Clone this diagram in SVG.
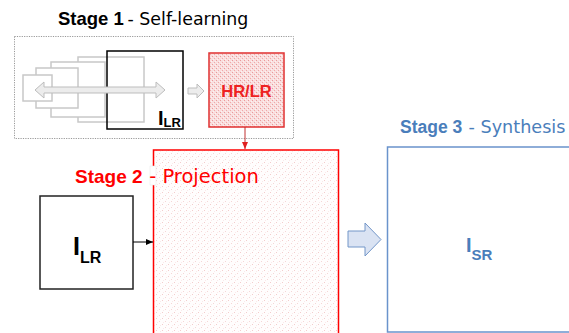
<svg xmlns="http://www.w3.org/2000/svg" width="569" height="333" viewBox="0 0 569 333">
<style>
text{font-family:"Liberation Sans",Arial,sans-serif}
.b{font-weight:bold}
.n{font-family:"DejaVu Sans",Verdana,sans-serif}
.ghost{fill:#fff;stroke:#c8c8c8;stroke-width:1.5}
</style>
<defs>
<pattern id="hrp" width="4" height="4" patternUnits="userSpaceOnUse">
<rect width="4" height="4" fill="#f9dede"/>
<rect x="0" y="0" width="1" height="1" fill="#ea9a9a"/>
<rect x="2" y="2" width="1" height="1" fill="#f0a8a8"/>
<rect x="3" y="1" width="1" height="1" fill="#fdf2f2"/>
<rect x="1" y="3" width="1" height="1" fill="#fdf2f2"/>
</pattern>
<pattern id="s2p" width="6" height="6" patternUnits="userSpaceOnUse">
<rect width="6" height="6" fill="#fffdfd"/>
<rect x="0" y="0" width="1" height="1" fill="#f3cccc"/>
<rect x="3" y="3" width="1" height="1" fill="#f5d6d6"/>
<rect x="4" y="1" width="1" height="1" fill="#faeaea"/>
<rect x="1" y="4" width="1" height="1" fill="#faeaea"/>
</pattern>
<marker id="ah" markerWidth="8" markerHeight="8" refX="7" refY="4" orient="auto" markerUnits="userSpaceOnUse">
<path d="M0,1 L7,4 L0,7 Z" fill="#000"/>
</marker>
<marker id="ahr" markerWidth="8" markerHeight="8" refX="7" refY="4" orient="auto" markerUnits="userSpaceOnUse">
<path d="M0,1 L7,4 L0,7 Z" fill="#e02020"/>
</marker>
</defs>

<g id="stage1">
<text x="58" y="25" font-size="18.5" fill="#000"><tspan class="b">Stage 1</tspan><tspan class="n" font-size="17.4" x="122"> - Self-learning</tspan></text>
<rect x="14.5" y="36.5" width="279" height="102" fill="none" stroke="#999" stroke-width="1" stroke-dasharray="1.2,1.2"/>
<rect class="ghost" x="78" y="57" width="66" height="65"/>
<rect class="ghost" x="51" y="62" width="54" height="55"/>
<rect class="ghost" x="36" y="68" width="42" height="40"/>
<rect class="ghost" x="23" y="75" width="29" height="26"/>
<rect x="107" y="51" width="76" height="78" fill="none" stroke="#000" stroke-width="1.5"/>
<path d="M35,90 L44,82 L44,87 L156,87 L156,82 L165,90 L156,98 L156,93 L44,93 L44,98 Z" fill="#ececec" stroke="#bdbdbd" stroke-width="1"/>
<text x="158" y="125" font-size="20" class="b">I<tspan font-size="13" dy="2">LR</tspan></text>
<path d="M188,88 L197,88 L197,84 L204,91 L197,98 L197,94 L188,94 Z" fill="#ececec" stroke="#bdbdbd" stroke-width="1"/>
</g>

<g id="hrlr">
<rect x="209" y="53" width="75" height="74" fill="url(#hrp)" stroke="#e03030" stroke-width="1.5"/>
<text x="246.5" y="97" font-size="16.5" class="b" fill="#ee2222" text-anchor="middle">HR/LR</text>
</g>

<g id="stage2">
<rect x="153.5" y="150" width="185" height="190" fill="url(#s2p)" stroke="#ff0000" stroke-width="1.5"/>
<rect x="150" y="166" width="6" height="19" fill="#fff" stroke="#e6e6e6" stroke-width="0.5"/>
<text x="75" y="183" font-size="19" fill="#ff0000"><tspan class="b">Stage 2</tspan><tspan class="n" font-size="19.5" x="143"> - Projection</tspan></text>
</g>

<g id="ilr">
<rect x="40" y="196" width="93" height="93" fill="#fff" stroke="#222" stroke-width="1.5"/>
<text x="73" y="255" font-size="25" class="b">I<tspan font-size="16" dy="8">LR</tspan></text>
</g>

<g id="stage3">
<text x="400" y="133" font-size="17.5" fill="#4a7ebb"><tspan class="b">Stage 3</tspan><tspan class="n" font-size="17.6" x="463"> - Synthesis</tspan></text>
<rect x="387.5" y="147" width="184" height="185" fill="#fff" stroke="#6a93cc" stroke-width="1.5"/>
<text x="466" y="252" font-size="20" class="b" fill="#4a7ebb">I<tspan font-size="15" dy="8">SR</tspan></text>
</g>

<g id="connectors">
<line x1="245" y1="127" x2="245" y2="149" stroke="#c03030" stroke-width="1" marker-end="url(#ahr)"/>
<line x1="133" y1="242" x2="153" y2="242" stroke="#000" stroke-width="1" marker-end="url(#ah)"/>
<path d="M348,231 L365,231 L365,223 L381,239.5 L365,256 L365,247 L348,247 Z" fill="#dae3f3" stroke="#7396c8" stroke-width="1"/>
</g>
</svg>
